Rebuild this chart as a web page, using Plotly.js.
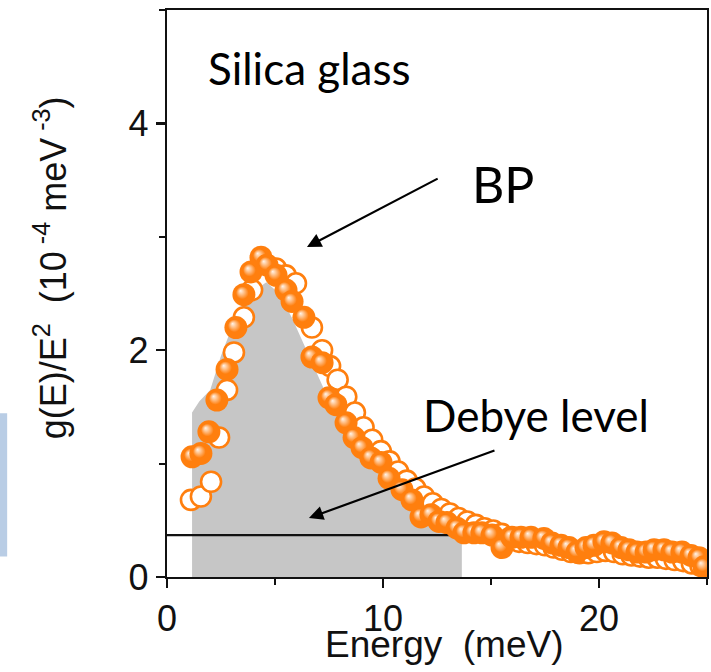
<!DOCTYPE html>
<html>
<head>
<meta charset="utf-8">
<script src="https://cdn.plot.ly/plotly-3.0.1.min.js"></script>
<style>html,body{margin:0;padding:0;background:#fff;}</style>
</head>
<body>
<div id="chart" style="width:711px;height:672px;"></div>
<script>
// Filled (solid) points: energy (meV) and g(E)/E^2 (1e-4 meV^-3)
var energyFilled = [1.16,1.57,1.94,2.31,2.78,3.19,3.56,3.89,4.35,4.63,5.05,5.51,5.79,6.34,6.71,7.18,7.50,7.82,8.29,8.66,9.03,9.44,9.91,10.28,10.88,11.34,11.76,12.22,12.59,12.96,13.43,13.75,14.21,14.58,15.05,15.51,15.97,16.39,16.85,17.45,17.82,18.24,18.61,18.98,19.40,19.77,20.23,20.60,21.02,21.39,21.76,22.18,22.55,23.01,23.38,23.84,24.26,24.63,24.86];
var gFilled      = [1.06,1.09,1.28,1.56,1.83,2.20,2.49,2.69,2.82,2.75,2.66,2.53,2.43,2.29,1.94,1.89,1.58,1.52,1.36,1.23,1.14,1.05,1.01,0.87,0.77,0.68,0.53,0.55,0.49,0.48,0.43,0.39,0.39,0.39,0.37,0.26,0.35,0.35,0.35,0.34,0.30,0.28,0.26,0.22,0.26,0.28,0.31,0.30,0.26,0.24,0.22,0.22,0.24,0.24,0.22,0.22,0.19,0.17,0.09];
// Open points
var energyOpen = [1.11,1.57,2.04,2.41,2.78,3.10,3.56,3.94,5.05,5.50,5.97,6.71,7.18,7.55,7.90,8.30,8.70,9.10,9.50,9.90,10.30,10.70,11.10,11.50,11.90,12.30,12.70,13.10,13.50,13.90,14.30,14.70,15.10,15.50,15.90,16.30,16.70,17.10,17.50,17.90,18.30,18.70,19.10,19.50,19.90,20.30,20.70,21.10,21.50,21.90,22.30,22.70,23.10,23.50,23.90,24.30,24.70,25.10];
var gOpen      = [0.68,0.71,0.84,1.23,1.65,1.98,2.29,2.53,2.72,2.66,2.59,2.20,2.00,1.86,1.74,1.59,1.45,1.32,1.21,1.11,1.02,0.93,0.85,0.78,0.71,0.65,0.60,0.56,0.52,0.49,0.46,0.43,0.41,0.38,0.35,0.31,0.30,0.29,0.28,0.26,0.24,0.22,0.21,0.21,0.22,0.23,0.22,0.20,0.19,0.18,0.17,0.17,0.16,0.15,0.14,0.12,0.10,0.08];
// Shaded boson-peak area (smoothed envelope)
var bpAreaE = [1.16,1.16,1.5,2.0,2.5,3.0,3.5,4.0,4.6,5.2,5.8,6.4,7.4,8.0,9.0,10.0,11.5,12.5,13.65,13.65];
var bpAreaG = [0,1.45,1.55,1.65,1.95,2.20,2.40,2.52,2.60,2.50,2.28,2.02,1.60,1.38,1.10,0.90,0.66,0.56,0.50,0];
// Debye level
var debyeE = [0, 13.65];
var debyeG = [0.37, 0.37];
// Axis ticks
var xTicks = [0, 10, 20];
var yTicks = [0, 2, 4];
// Texts
var xTitle = 'Energy\u00a0\u00a0(meV)';
var yTitle = 'g(E)/E<sup>2</sup>\u00a0\u00a0(10<sup>\u00a0-4</sup>\u00a0meV<sup>\u00a0-3</sup>)';

var orange = '#ff7f0e';

var traces = [
  {x: bpAreaE, y: bpAreaG, type: 'scatter', mode: 'lines', fill: 'toself',
   fillcolor: '#c6c6c6', line: {width: 0, color: '#c6c6c6'}, hoverinfo: 'skip'},
  {x: debyeE, y: debyeG, type: 'scatter', mode: 'lines',
   line: {color: '#111', width: 2.2}},
  {x: energyOpen, y: gOpen, type: 'scatter', mode: 'markers',
   marker: {size: 20, color: '#ffffff', line: {color: orange, width: 2.6}}},
  {x: energyFilled, y: gFilled, type: 'scatter', mode: 'markers',
   marker: {size: 23, color: orange, line: {width: 0},
            gradient: {type: 'radial', color: '#fff4ea'}}}
];

var arial = 'Liberation Sans, Arial, sans-serif';
var tickFont = {family: arial, size: 36, color: '#111'};
var labelFont = 'Lato, Open Sans, sans-serif';

var layout = {
  width: 711, height: 672,
  margin: {l: 167, r: 4, t: 10, b: 95},
  paper_bgcolor: '#fff', plot_bgcolor: '#fff',
  showlegend: false,
  xaxis: {
    range: [0, 25], tickvals: xTicks, ticks: 'outside', ticklen: 9, tickwidth: 2.2,
    tickcolor: '#111', showline: true, linecolor: '#111', linewidth: 2.2, mirror: true,
    showgrid: false, zeroline: false, tickfont: tickFont,
    minor: {dtick: 5, ticklen: 6, tickwidth: 2, tickcolor: '#111', ticks: 'outside', showgrid: false}
  },
  yaxis: {
    range: [0, 5], tickvals: yTicks, ticks: 'outside', ticklen: 9, tickwidth: 2.2,
    tickcolor: '#111', showline: true, linecolor: '#111', linewidth: 2.2, mirror: true,
    showgrid: false, zeroline: false, tickfont: tickFont,
    minor: {dtick: 1, ticklen: 6, tickwidth: 2, tickcolor: '#111', ticks: 'outside', showgrid: false}
  },
  shapes: [
    {type: 'rect', xref: 'paper', yref: 'paper', x0: -0.36, x1: -0.296, y0: 0.036, y1: 0.289,
     fillcolor: '#b9cde5', line: {width: 0}, layer: 'below'}
  ],
  annotations: [
    {x: 0.513, y: -0.158, xref: 'paper', yref: 'paper', xanchor: 'center', yanchor: 'bottom',
     text: xTitle, showarrow: false, font: {family: arial, size: 37, color: '#111'}},
    {x: -0.215, y: 0.546, xref: 'paper', yref: 'paper', xanchor: 'center', yanchor: 'middle',
     textangle: -90, text: yTitle, showarrow: false, font: {family: arial, size: 36, color: '#111'}},
    {x: 6.6, y: 4.49, xref: 'x', yref: 'y', text: 'Silica glass', showarrow: false,
     font: {family: labelFont, size: 44, color: '#000'}},
    {x: 15.55, y: 3.47, xref: 'x', yref: 'y', text: 'BP', showarrow: false,
     font: {family: labelFont, size: 50, color: '#000'}},
    {x: 17.1, y: 1.43, xref: 'x', yref: 'y', text: 'Debye level', showarrow: false,
     font: {family: labelFont, size: 44, color: '#000'}},
    {x: 6.48, y: 2.91, ax: 12.6, ay: 3.52, xref: 'x', yref: 'y', axref: 'x', ayref: 'y',
     text: '', showarrow: true, arrowhead: 2, arrowsize: 1.3, arrowwidth: 2.2, arrowcolor: '#000'},
    {x: 6.57, y: 0.52, ax: 15.23, ay: 1.12, xref: 'x', yref: 'y', axref: 'x', ayref: 'y',
     text: '', showarrow: true, arrowhead: 2, arrowsize: 1.3, arrowwidth: 2.2, arrowcolor: '#000'}
  ]
};

Plotly.newPlot('chart', traces, layout, {staticPlot: true, displayModeBar: false}).then(function () {
  var grads = document.querySelectorAll('radialGradient');
  grads.forEach(function (g) {
    g.setAttribute('fx', '0.35');
    g.setAttribute('fy', '0.33');
    var stops = g.querySelectorAll('stop');
    if (stops.length >= 2) {
      stops[stops.length - 1].setAttribute('offset', '55%');
    }
  });
});
</script>
</body>
</html>
